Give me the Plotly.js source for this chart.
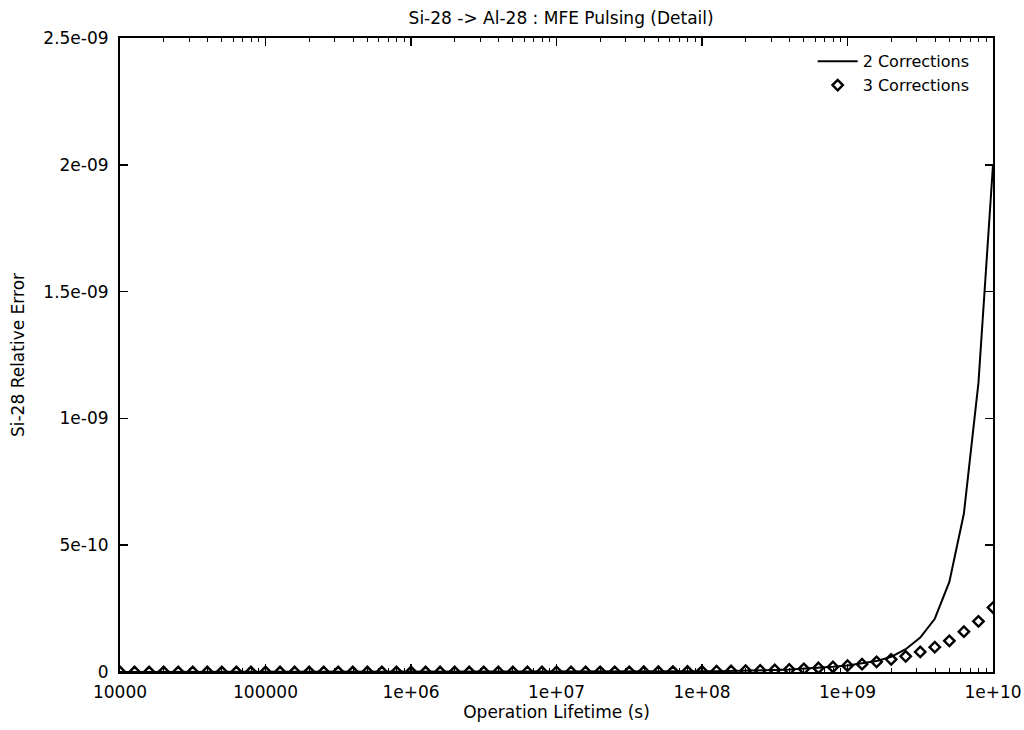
<!DOCTYPE html>
<html>
<head>
<meta charset="utf-8">
<script src="https://cdn.plot.ly/plotly-3.0.1.min.js"></script>
<style>html,body{margin:0;padding:0;background:#fff;}#chart{width:1024px;height:730px;}</style>
</head>
<body>
<div id="chart"></div>
<script>
// Operation lifetime (s), 10 points per decade
const lifetime = [
  1.0e4, 1.259e4, 1.585e4, 1.995e4, 2.512e4, 3.162e4, 3.981e4, 5.012e4, 6.310e4, 7.943e4,
  1.0e5, 1.259e5, 1.585e5, 1.995e5, 2.512e5, 3.162e5, 3.981e5, 5.012e5, 6.310e5, 7.943e5,
  1.0e6, 1.259e6, 1.585e6, 1.995e6, 2.512e6, 3.162e6, 3.981e6, 5.012e6, 6.310e6, 7.943e6,
  1.0e7, 1.259e7, 1.585e7, 1.995e7, 2.512e7, 3.162e7, 3.981e7, 5.012e7, 6.310e7, 7.943e7,
  1.0e8, 1.259e8, 1.585e8, 1.995e8, 2.512e8, 3.162e8, 3.981e8, 5.012e8, 6.310e8, 7.943e8,
  1.0e9, 1.259e9, 1.585e9, 1.995e9, 2.512e9, 3.162e9, 3.981e9, 5.012e9, 6.310e9, 7.943e9,
  1.0e10
];

// Si-28 relative error, 2 corrections (line)
const twoCorrections = [
  2.5e-16, 3.2e-16, 4.0e-16, 5.1e-16, 6.4e-16, 8.0e-16, 1.0e-15, 1.3e-15, 1.6e-15, 2.0e-15,
  2.5e-15, 3.2e-15, 4.0e-15, 5.1e-15, 6.4e-15, 8.0e-15, 1.0e-14, 1.3e-14, 1.6e-14, 2.0e-14,
  2.5e-14, 3.2e-14, 4.0e-14, 5.1e-14, 6.4e-14, 8.0e-14, 1.0e-13, 1.3e-13, 1.6e-13, 2.0e-13,
  2.5e-13, 3.2e-13, 4.0e-13, 5.1e-13, 6.4e-13, 8.0e-13, 1.0e-12, 1.3e-12, 1.6e-12, 2.0e-12,
  2.5e-12, 3.2e-12, 4.0e-12, 5.1e-12, 6.4e-12, 8.1e-12, 1.02e-11, 1.3e-11, 1.62e-11, 2.05e-11,
  2.6e-11, 3.3e-11, 4.3e-11, 6.0e-11, 9.0e-11, 1.36e-10, 2.1e-10, 3.55e-10, 6.25e-10, 1.14e-9,
  2.0e-9
];

// Si-28 relative error, 3 corrections (diamonds)
const threeCorrections = [
  2.5e-16, 3.2e-16, 4.0e-16, 5.1e-16, 6.4e-16, 8.0e-16, 1.0e-15, 1.3e-15, 1.6e-15, 2.0e-15,
  2.5e-15, 3.2e-15, 4.0e-15, 5.1e-15, 6.4e-15, 8.0e-15, 1.0e-14, 1.3e-14, 1.6e-14, 2.0e-14,
  2.5e-14, 3.2e-14, 4.0e-14, 5.1e-14, 6.4e-14, 8.0e-14, 1.0e-13, 1.3e-13, 1.6e-13, 2.0e-13,
  2.5e-13, 3.2e-13, 4.0e-13, 5.1e-13, 6.4e-13, 8.0e-13, 1.0e-12, 1.3e-12, 1.6e-12, 2.0e-12,
  2.5e-12, 3.2e-12, 4.0e-12, 5.1e-12, 6.4e-12, 8.0e-12, 1.0e-11, 1.27e-11, 1.6e-11, 2.0e-11,
  2.5e-11, 3.1e-11, 4.0e-11, 5.0e-11, 6.2e-11, 7.9e-11, 9.8e-11, 1.23e-10, 1.59e-10, 2.0e-10,
  2.54e-10
];

const xTickVals = [1e4, 1e5, 1e6, 1e7, 1e8, 1e9, 1e10];
const xTickText = ['10000', '100000', '1e+06', '1e+07', '1e+08', '1e+09', '1e+10'];
const yTickVals = [0, 5e-10, 1e-9, 1.5e-9, 2e-9, 2.5e-9];
const yTickText = ['0', '5e-10', '1e-09', '1.5e-09', '2e-09', '2.5e-09'];

const font = {family: 'DejaVu Sans, Verdana, sans-serif', size: 17, color: '#000'};
const legendFont = {family: 'DejaVu Sans, Verdana, sans-serif', size: 16, color: '#000'};

const traces = [
  {
    x: lifetime, y: twoCorrections, name: '2 Corrections',
    type: 'scatter', mode: 'lines',
    line: {color: '#000', width: 2}
  },
  {
    x: lifetime, y: threeCorrections, name: '3 Corrections',
    type: 'scatter', mode: 'markers',
    marker: {symbol: 'diamond-open', size: 8, color: '#000', line: {color: '#000', width: 2.4}}
  }
];

const layout = {
  width: 1024, height: 730,
  margin: {l: 120, r: 31, t: 38, b: 58},
  paper_bgcolor: '#fff', plot_bgcolor: '#fff',
  font: font,
  title: {text: 'Si-28 -> Al-28 : MFE Pulsing (Detail)', font: font, x: 0.548, xanchor: 'center', y: 0.975, yanchor: 'middle'},
  showlegend: true,
  legend: {
    x: 0.979, y: 0.99, xanchor: 'right', yanchor: 'top',
    bgcolor: 'rgba(0,0,0,0)', borderwidth: 0,
    font: legendFont, tracegroupgap: 0, itemwidth: 40
  },
  xaxis: {
    type: 'log', range: [4, 10],
    tickvals: xTickVals, ticktext: xTickText,
    ticks: 'inside', ticklen: 8, tickwidth: 1.5, tickcolor: '#000',
    minor: {dtick: 'D1', ticks: 'inside', ticklen: 4, tickwidth: 1, tickcolor: '#000', showgrid: false},
    showline: true, linecolor: '#000', linewidth: 2, mirror: 'ticks',
    showgrid: false, zeroline: false,
    tickfont: font, ticklabelstandoff: 4,
    title: {text: 'Operation Lifetime (s)', font: font, standoff: 3}
  },
  yaxis: {
    range: [0, 2.5e-9],
    tickvals: yTickVals, ticktext: yTickText,
    ticks: 'inside', ticklen: 8, tickwidth: 1.5, tickcolor: '#000',
    showline: true, linecolor: '#000', linewidth: 2, mirror: 'ticks',
    showgrid: false, zeroline: false,
    tickfont: font, ticklabelstandoff: 6,
    title: {text: 'Si-28 Relative Error', font: font, standoff: 14}
  }
};

Plotly.newPlot('chart', traces, layout, {displayModeBar: false, staticPlot: true});
</script>
</body>
</html>
